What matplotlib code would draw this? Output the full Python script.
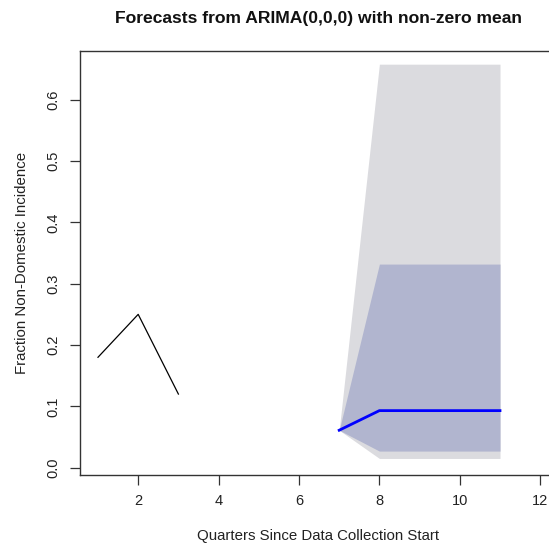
import numpy as np
import matplotlib
matplotlib.use('agg')
import matplotlib.pyplot as plt

plt.rcParams['font.family'] = ['Liberation Sans', 'DejaVu Sans']

# observed series
obs_x = [1, 2, 3]
obs_y = [0.18, 0.25, 0.12]

# forecast (starts from last observation at x=7)
fc_x = [7, 8, 9, 10, 11]
fc_mean = [0.061, 0.093, 0.093, 0.093, 0.093]
lo80 = [0.061, 0.027, 0.027, 0.027, 0.027]
hi80 = [0.061, 0.332, 0.332, 0.332, 0.332]
lo95 = [0.061, 0.015, 0.015, 0.015, 0.015]
hi95 = [0.061, 0.658, 0.658, 0.658, 0.658]

xticks = [2, 4, 6, 8, 10, 12]
yticks = [0.0, 0.1, 0.2, 0.3, 0.4, 0.5, 0.6]

fig = plt.figure(figsize=(5.49, 5.46), dpi=100)
ax = fig.add_axes([80.3/549, 1-475/546, (556-80.3)/549, (475-50.7)/546])

ax.fill_between(fc_x, lo95, hi95, color='#DBDBDF', lw=0)
ax.fill_between(fc_x, lo80, hi80, color='#B1B5CF', lw=0)
ax.plot(fc_x, fc_mean, color='#0000FF', lw=2)
ax.plot(obs_x, obs_y, color='black', lw=0.9)

ax.set_xlim(0.56, 1 + (556 - 98) / 40.2)
ax.set_ylim(-0.012, 0.68)
ax.set_xticks(xticks)
ax.set_yticks(yticks)
ax.set_xticklabels([str(t) for t in xticks], fontsize=10.5, color='#222222')
ax.set_yticklabels(['%.1f' % t for t in yticks], fontsize=10.5, rotation=90,
                   va='center', color='#222222')
ax.tick_params(length=7, width=0.9, color='#333333', pad=7)

for s in ax.spines.values():
    s.set_color('#333333')
    s.set_linewidth(1.0)

ax.set_title('Forecasts from ARIMA(0,0,0) with non-zero mean', fontsize=12.6,
             fontweight='bold', pad=20, color='#111111')
ax.set_xlabel('Quarters Since Data Collection Start', fontsize=10.8, labelpad=15,
              color='#222222')
ax.set_ylabel('Fraction Non-Domestic Incidence', fontsize=10.8, labelpad=13,
              color='#222222')

fig.savefig('out.png', dpi=100)
